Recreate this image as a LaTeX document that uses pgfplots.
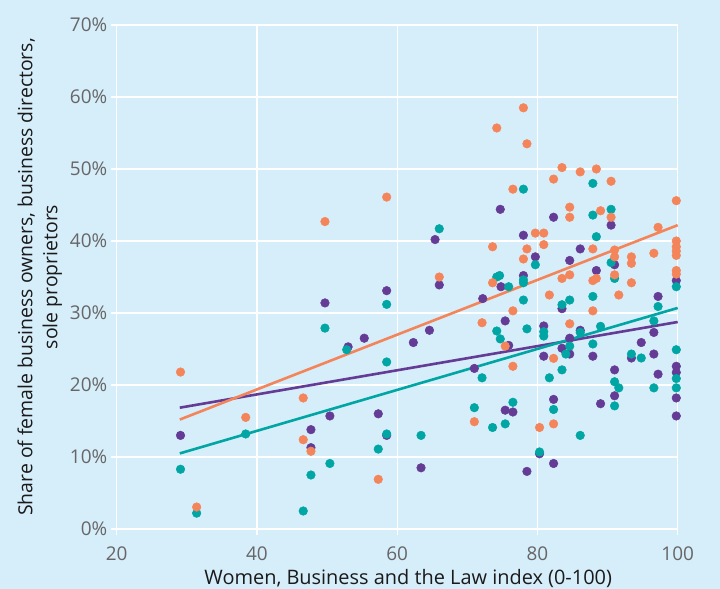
\documentclass[border=0pt]{standalone}
\usepackage{fontspec}
\setmainfont{Open Sans}
\usepackage{pgfplots}
\pgfplotsset{compat=1.18}
\definecolor{bg}{HTML}{D6EDFA}
\definecolor{cor}{HTML}{F4855A}
\definecolor{cpu}{HTML}{643C96}
\definecolor{cte}{HTML}{00A6A3}
\definecolor{tickgray}{HTML}{666666}
\definecolor{labblack}{HTML}{1A1A1A}
\begin{document}
\fontsize{19}{25}\selectfont
\begin{tikzpicture}
\fill[bg] (0,0) rectangle (720bp,589bp);
\useasboundingbox (0,0) rectangle (720bp,589bp);
\begin{axis}[
  at={(116.7bp,60bp)}, anchor=south west,
  scale only axis, width=561bp, height=504bp,
  xmin=20, xmax=100, ymin=0, ymax=70,
  xtick={20,40,...,100}, ytick={0,10,...,70},
  yticklabel={\pgfmathprintnumber{\tick}\%},
  axis lines*=left,
  axis line style={white, line width=1.3bp},
  grid=major, grid style={white, line width=1.3bp},
  tick style={white, line width=1.3bp},
  major tick length=6bp, tick align=outside,
  /pgf/number format/assume math mode=true,
  ticklabel style={font=\fontsize{19}{22}\selectfont, text=tickgray},
  xticklabel style={yshift=-5bp},
  yticklabel style={xshift=3bp},
  clip=false,
  xlabel={Women, Business and the Law index (0-100)},
  ylabel={Share of female business owners, business directors,\\ sole proprietors},
  xlabel style={at={([xshift=11bp,yshift=-55bp]axis description cs:0.5,0)}, anchor=base, text=labblack, font=\fontsize{20}{25}\selectfont},
  ylabel style={at={([xshift=-77bp]axis description cs:0,0.5)}, anchor=center, rotate=0, align=center, text=labblack, font=\fontsize{19.5}{25}\selectfont},
]
% purple
\addplot[only marks, mark=*, color=cpu, mark size=4.3bp, mark options={line width=0.5bp, draw=cpu, fill=cpu}] coordinates {
(29.1,13.0) (47.7,13.8) (47.7,11.3) (50.4,15.7) (65.4,40.2) (66.0,33.9) (58.5,33.1) (49.7,31.4) (55.3,26.5) (53.0,25.3) (62.3,25.9) (64.6,27.6) (57.3,16.0) (58.5,13.0) (63.4,8.5)
(74.7,44.4) (82.3,43.3) (78.0,40.8) (79.7,37.8) (84.6,37.3) (78.0,35.2) (90.5,42.2) (86.1,38.9) (91.0,36.7) (88.4,35.9) (99.8,34.5) (97.2,32.3) (74.8,33.65) (72.2,32.0)
(83.5,30.6) (75.4,28.9) (75.9,25.5) (80.9,28.2) (84.6,26.5) (83.5,25.1) (84.6,24.3) (80.9,24.0) (71.0,22.3) (75.4,16.5) (76.5,16.25) (82.3,18.0) (80.3,10.45) (82.3,9.1) (78.5,8.0)
(86.1,27.6) (87.9,24.0) (91.0,22.1) (91.0,18.5) (89.0,17.4) (93.4,23.75) (94.8,25.9) (96.6,27.3) (96.6,24.3) (97.2,21.5) (99.8,22.6) (99.8,21.75) (99.8,18.2) (99.8,15.7)
};
% teal
\addplot[only marks, mark=*, color=cte, mark size=4.3bp, mark options={line width=0.5bp, draw=cte, fill=cte}] coordinates {
(29.1,8.3) (31.4,2.2) (38.4,13.2) (47.7,7.5) (46.6,2.5) (50.4,9.1) (52.8,24.9) (66.0,41.7) (58.5,31.2) (49.7,27.9) (58.5,23.2) (58.5,13.2) (57.3,11.1) (63.4,13.0)
(78.0,47.2) (79.7,36.7) (74.6,35.2) (74.2,35.0) (78.0,34.6) (87.9,48.0) (87.9,43.6) (90.5,44.4) (88.4,40.6) (90.5,37.0) (91.0,34.8) (99.8,33.65) (87.9,32.3) (84.6,31.8) (75.9,33.65) (78.0,34.2) (78.0,31.8)
(83.5,31.15) (74.2,27.5) (74.7,26.4) (78.5,27.8) (80.9,27.4) (80.9,26.8) (84.05,24.3) (84.6,25.4) (83.5,22.1) (81.7,21.0) (72.1,21.0) (71.0,16.85) (76.5,17.6) (73.6,14.1) (75.4,14.6) (82.3,16.6) (80.3,10.7)
(86.1,27.3) (89.0,28.15) (87.9,25.7) (91.0,20.45) (91.6,19.6) (91.0,17.1) (86.1,13.0) (93.4,24.3) (94.8,23.75) (96.6,28.9) (96.6,19.6) (97.2,30.9) (99.8,24.9) (99.8,20.9) (99.8,19.6)
};
% orange
\addplot[only marks, mark=*, color=cor, mark size=4.3bp, mark options={line width=0.5bp, draw=cor, fill=cor}] coordinates {
(29.1,21.8) (31.4,3.05) (38.4,15.5) (46.6,18.2) (46.6,12.4) (47.7,10.8) (49.7,42.7) (58.5,46.1) (57.3,6.9) (66.0,35.0)
(78.0,58.5) (74.2,55.7) (78.5,53.5) (83.5,50.2) (82.3,48.6) (76.5,47.2) (84.6,44.7) (84.6,43.3) (79.7,41.1) (80.9,41.1) (80.9,39.5) (73.6,39.2) (78.5,38.9) (78.0,37.5) (73.6,34.2)
(86.1,49.6) (88.4,50.0) (90.5,48.3) (99.8,45.6) (89.0,44.2) (90.5,43.3) (97.2,41.9) (87.9,38.9) (99.8,40.0) (99.8,39.2) (99.8,38.6) (99.8,38.0) (91.0,38.75) (91.0,37.8) (93.4,37.8) (93.4,36.9) (96.6,38.3) (91.0,35.3) (83.5,34.8) (84.6,35.3) (87.9,34.5) (88.4,34.8) (99.8,35.9) (99.8,35.4) (93.4,34.2) (91.6,32.5) (81.7,32.5)
(76.5,30.3) (72.1,28.65) (75.4,25.4) (84.6,28.5) (82.3,23.7) (76.5,22.6) (71.0,14.9) (80.3,14.1) (82.3,14.6) (87.9,30.3)
};
\addplot[cpu, line width=2.6bp] coordinates {(29,16.85) (100,28.75)};
\addplot[cte, line width=2.6bp] coordinates {(29,10.5) (100,30.7)};
\addplot[cor, line width=2.6bp] coordinates {(29,15.2) (100,42.2)};
\end{axis}
\end{tikzpicture}
\end{document}
